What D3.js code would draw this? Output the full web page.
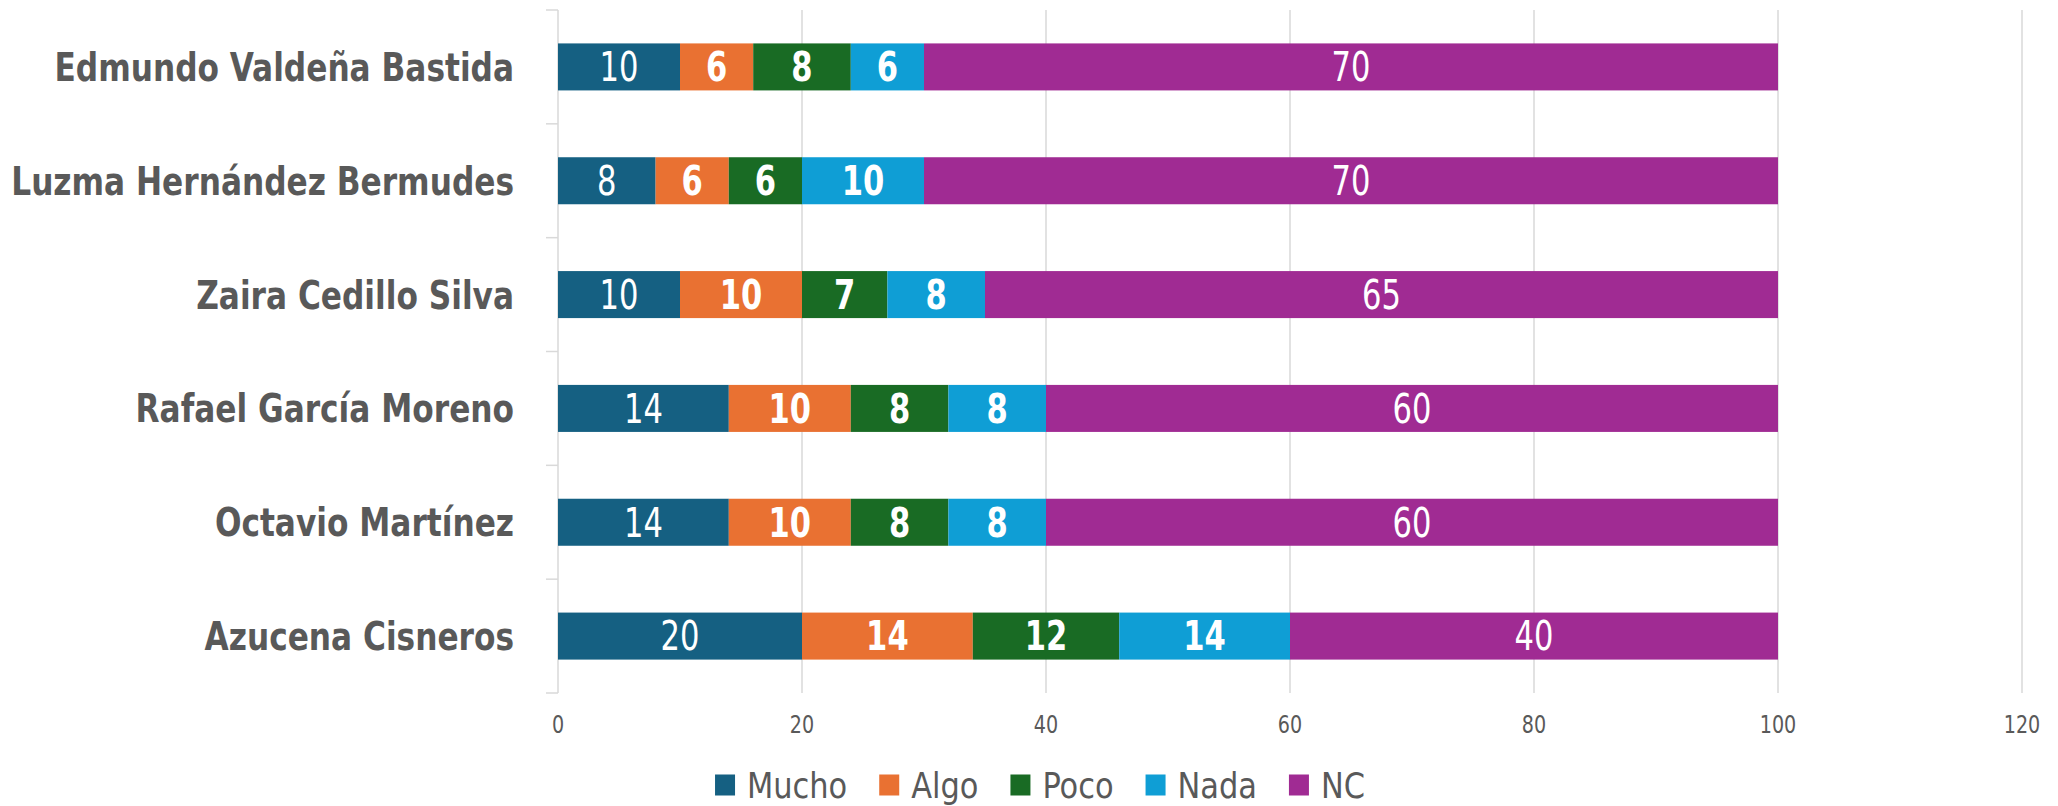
<!DOCTYPE html>
<html>
<head>
<meta charset="utf-8">
<script src="https://cdn.jsdelivr.net/npm/d3@7"></script>
<style>
  body { margin: 0; background: #fff; }
  svg text { font-family: "DejaVu Sans Condensed", "Liberation Sans Narrow", sans-serif; }
</style>
</head>
<body>
<div id="chart"></div>
<script>
// categories top -> bottom
const names = [
  "Edmundo Valdeña Bastida",
  "Luzma Hernández Bermudes",
  "Zaira Cedillo Silva",
  "Rafael García Moreno",
  "Octavio Martínez",
  "Azucena Cisneros",
];
const seriesNames = ["Mucho", "Algo", "Poco", "Nada", "NC"];
const mucho = [10, 8, 10, 14, 14, 20];
const algo = [6, 6, 10, 10, 10, 14];
const poco = [8, 6, 7, 8, 8, 12];
const nada = [6, 10, 8, 8, 8, 14];
const nc = [70, 70, 65, 60, 60, 40];
const xTicks = [0, 20, 40, 60, 80, 100, 120];

const colors = ["#156082", "#E97132", "#196B24", "#0F9ED5", "#A02B93"];
const boldLabel = [false, true, true, true, false];

const W = 2058, H = 806;
const MARGIN = {LEFT: 558, RIGHT: 36, TOP: 10, BOTTOM: 113};

// narrow look: squeeze the available font horizontally
function squeeze(sel, px, py, sx) {
  sel.attr("x", 0).attr("y", 0)
    .attr("transform", (d, i) => "translate(" + px(d, i) + "," + py(d, i) + ") scale(" + sx + ",1)");
}

const svg = d3.select("#chart").append("svg")
  .attr("width", W).attr("height", H);

const x = d3.scaleLinear().domain([0, 120]).range([MARGIN.LEFT, W - MARGIN.RIGHT]);
const y = d3.scaleBand().domain(names)
  .range([MARGIN.TOP, H - MARGIN.BOTTOM])
  .paddingInner(0.587).paddingOuter(0.2935);

// table for stacking
const table = names.map((n, i) => ({
  name: n, Mucho: mucho[i], Algo: algo[i], Poco: poco[i], Nada: nada[i], NC: nc[i]
}));
const stacked = d3.stack().keys(seriesNames)(table);

// gridlines
svg.append("g").selectAll("line")
  .data(xTicks.filter(d => d > 0))
  .enter().append("line")
  .attr("x1", d => x(d)).attr("x2", d => x(d))
  .attr("y1", MARGIN.TOP).attr("y2", H - MARGIN.BOTTOM)
  .attr("stroke", "#d9d9d9").attr("stroke-width", 1.5);

// y axis line + category boundary ticks
const yAxis = svg.append("g");
yAxis.append("line")
  .attr("x1", x(0)).attr("x2", x(0))
  .attr("y1", MARGIN.TOP).attr("y2", H - MARGIN.BOTTOM)
  .attr("stroke", "#d9d9d9").attr("stroke-width", 1.5);
const step = y.step();
yAxis.selectAll("line.tk")
  .data(d3.range(names.length + 1))
  .enter().append("line").attr("class", "tk")
  .attr("x1", x(0) - 12).attr("x2", x(0))
  .attr("y1", i => MARGIN.TOP + i * step).attr("y2", i => MARGIN.TOP + i * step)
  .attr("stroke", "#d9d9d9").attr("stroke-width", 1.5);

// category labels
svg.append("g").selectAll("text")
  .data(names).enter().append("text")
  .attr("dy", "0.36em")
  .attr("text-anchor", "end")
  .attr("fill", "#595959")
  .attr("font-weight", "bold")
  .attr("font-size", 39)
  .text(d => d)
  .call(squeeze, () => x(0) - 44, d => y(d) + y.bandwidth() / 2, 0.89);

// x tick labels
svg.append("g").selectAll("text")
  .data(xTicks).enter().append("text")
  .attr("dy", "0.36em")
  .attr("text-anchor", "middle")
  .attr("fill", "#595959")
  .attr("font-size", 25)
  .text(d => d)
  .call(squeeze, d => x(d), () => 724, 0.85);

// bars
const layers = svg.append("g").selectAll("g")
  .data(stacked).enter().append("g")
  .attr("fill", (d, i) => colors[i]);

layers.selectAll("rect")
  .data(d => d).enter().append("rect")
  .attr("x", d => x(d[0]))
  .attr("y", d => y(d.data.name))
  .attr("width", d => x(d[1]) - x(d[0]))
  .attr("height", y.bandwidth());

// value labels
stacked.forEach((s, i) => {
  svg.append("g").selectAll("text")
    .data(s).enter().append("text")
    .attr("dy", "0.36em")
    .attr("text-anchor", "middle")
    .attr("fill", "#fff")
    .attr("font-weight", boldLabel[i] ? "bold" : "normal")
    .attr("font-size", 40)
    .text(d => d[1] - d[0])
    .call(squeeze, d => (x(d[0]) + x(d[1])) / 2, d => y(d.data.name) + y.bandwidth() / 2, 0.85);
});

// legend
const LEG_SX = 0.94, LEG_GAP = 32;
const legend = svg.append("g");
const items = legend.selectAll("g")
  .data(seriesNames).enter().append("g");
items.append("rect")
  .attr("width", 20).attr("height", 21)
  .attr("y", -10.5)
  .attr("fill", (d, i) => colors[i]);
items.append("text")
  .attr("dy", "0.36em")
  .attr("fill", "#595959")
  .attr("font-size", 36)
  .text(d => d)
  .call(squeeze, () => 32, () => 0, LEG_SX);
// lay out legend items in a row, centred
let offs = [], cur = 0;
items.each(function () {
  offs.push(cur);
  const t = d3.select(this).select("text").node().getComputedTextLength() * LEG_SX;
  cur += 32 + t + LEG_GAP;
});
const total = cur - LEG_GAP;
items.attr("transform", (d, i) => "translate(" + (1040 - total / 2 + offs[i]) + ",785)");
</script>
</body>
</html>
